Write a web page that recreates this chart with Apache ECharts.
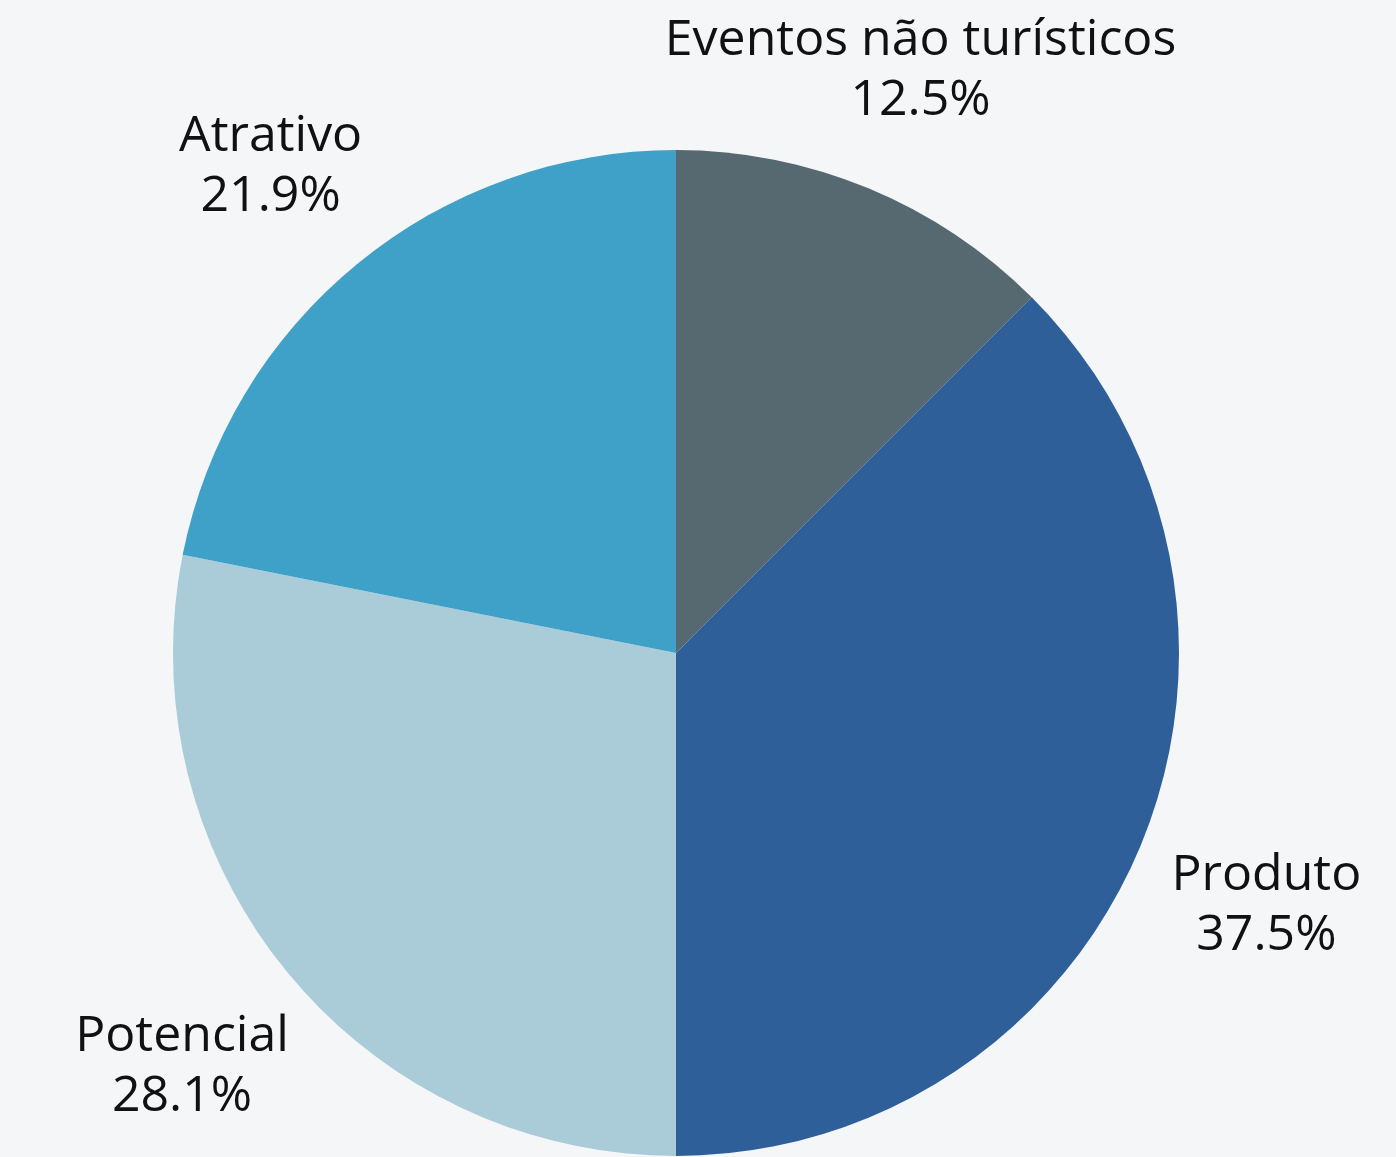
<!DOCTYPE html>
<html>
<head>
    <meta charset="UTF-8">
    <title>Pie</title>
    <script src="https://cdn.jsdelivr.net/npm/echarts@6/dist/echarts.min.js"></script>
    <style>
        html, body { margin: 0; padding: 0; background: #f4f6f8; }
        #chart { width: 1396px; height: 1157px; }
    </style>
</head>
<body>
<div id="chart"></div>
<script type="text/javascript">
// dados
var categories = ['Eventos não turísticos', 'Produto', 'Potencial', 'Atrativo'];
var counts = [4, 12, 9, 7];
var colors = ['#566870', '#2f5f98', '#aacbd8', '#3fa1c8'];

var slices = [];
for (var i = 0; i < categories.length; i++) {
    slices.push({ name: categories[i], value: counts[i], itemStyle: { color: colors[i] } });
}

var myChart = echarts.init(document.getElementById('chart'));
var option = {
    backgroundColor: '#f4f6f8',
    animation: false,
    series: [
        {
            type: 'pie',
            center: [676, 653],
            radius: [0, 503],
            startAngle: 90,
            silent: true,
            label: { show: false },
            labelLine: { show: false },
            itemStyle: { borderWidth: 0 },
            data: slices
        },
        {
            // anel invisivel so para posicionar os rotulos
            type: 'pie',
            center: [676, 653],
            radius: [600, 672],
            startAngle: 90,
            silent: true,
            itemStyle: { color: 'rgba(0,0,0,0)', borderWidth: 0 },
            label: {
                show: true,
                position: 'inside',
                color: '#111',
                fontFamily: 'Open Sans',
                fontWeight: 'normal',
                fontSize: 50,
                lineHeight: 60,
                align: 'center',
                formatter: function (p) {
                    return p.name + '\n' + p.percent.toFixed(1) + '%';
                }
            },
            labelLayout: { dy: 8 },
            labelLine: { show: false },
            data: categories.map(function (c, i) { return { name: c, value: counts[i] }; })
        }
    ]
};
myChart.setOption(option);
</script>
</body>
</html>
